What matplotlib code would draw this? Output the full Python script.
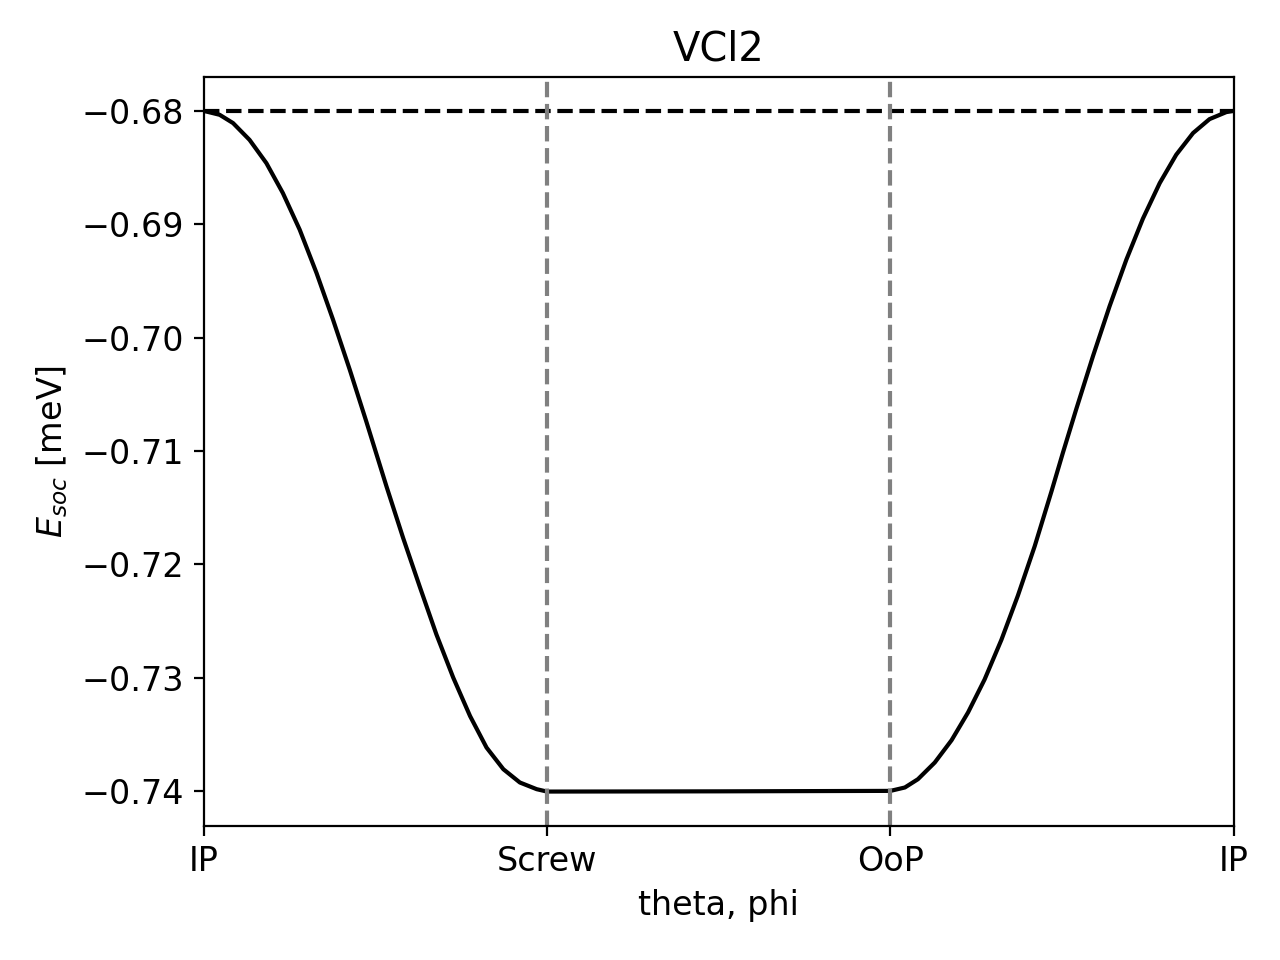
import numpy as np
import matplotlib
matplotlib.use('Agg')
import matplotlib.pyplot as plt

plt.rcParams['font.size'] = 12

# IP -> Screw (fraction along segment, energy in meV)
t_ip_screw = [0.0, 0.047, 0.086, 0.134, 0.183, 0.231, 0.280, 0.329, 0.377, 0.426,
              0.474, 0.494, 0.533, 0.581, 0.630, 0.678, 0.727, 0.776, 0.824, 0.873,
              0.921, 0.970, 1.0]
e_ip_screw = [-0.68000, -0.68035, -0.68108, -0.68256, -0.68461, -0.68725, -0.69048,
              -0.69430, -0.69841, -0.70285, -0.70740, -0.70935, -0.71315, -0.71765,
              -0.72200, -0.72617, -0.72998, -0.73337, -0.73615, -0.73806, -0.73923,
              -0.73982, -0.74003]

# Screw -> OoP
t_screw_oop = [0.0, 0.25, 0.5, 0.75, 1.0]
e_screw_oop = [-0.74003, -0.74002, -0.74001, -0.73999, -0.73997]

# OoP -> IP
t_oop_ip = [0.0, 0.042, 0.080, 0.129, 0.178, 0.226, 0.274, 0.323, 0.371, 0.420,
            0.469, 0.502, 0.541, 0.590, 0.638, 0.687, 0.735, 0.784, 0.832, 0.881,
            0.929, 0.978, 1.0]
e_oop_ip = [-0.73997, -0.73967, -0.73894, -0.73747, -0.73550, -0.73305, -0.73015,
            -0.72665, -0.72275, -0.71839, -0.71354, -0.71016, -0.70630, -0.70160,
            -0.69723, -0.69311, -0.68951, -0.68637, -0.68387, -0.68196, -0.68073,
            -0.68011, -0.68000]

tick_labels = ['IP', 'Screw', 'OoP', 'IP']

x = np.concatenate([np.array(t_ip_screw), 1 + np.array(t_screw_oop), 2 + np.array(t_oop_ip)])
e = np.concatenate([e_ip_screw, e_screw_oop, e_oop_ip])

fig, ax = plt.subplots(figsize=(6.4, 4.8), dpi=200)
fig.subplots_adjust(left=0.159, right=0.964, top=0.920, bottom=0.140)
ax.plot(x, e, color='k')
ax.axhline(max(e), color='k', ls='--')
ax.axvline(1, color='gray', ls='--')
ax.axvline(2, color='gray', ls='--')
ax.set_xlim(0, 3)
ax.set_xticks([0, 1, 2, 3])
ax.set_xticklabels(tick_labels)
ax.set_xlabel('theta, phi')
ax.set_ylabel(r'$E_{soc}$ [meV]')
ax.set_title('VCl2')
fig.savefig('out.png')
